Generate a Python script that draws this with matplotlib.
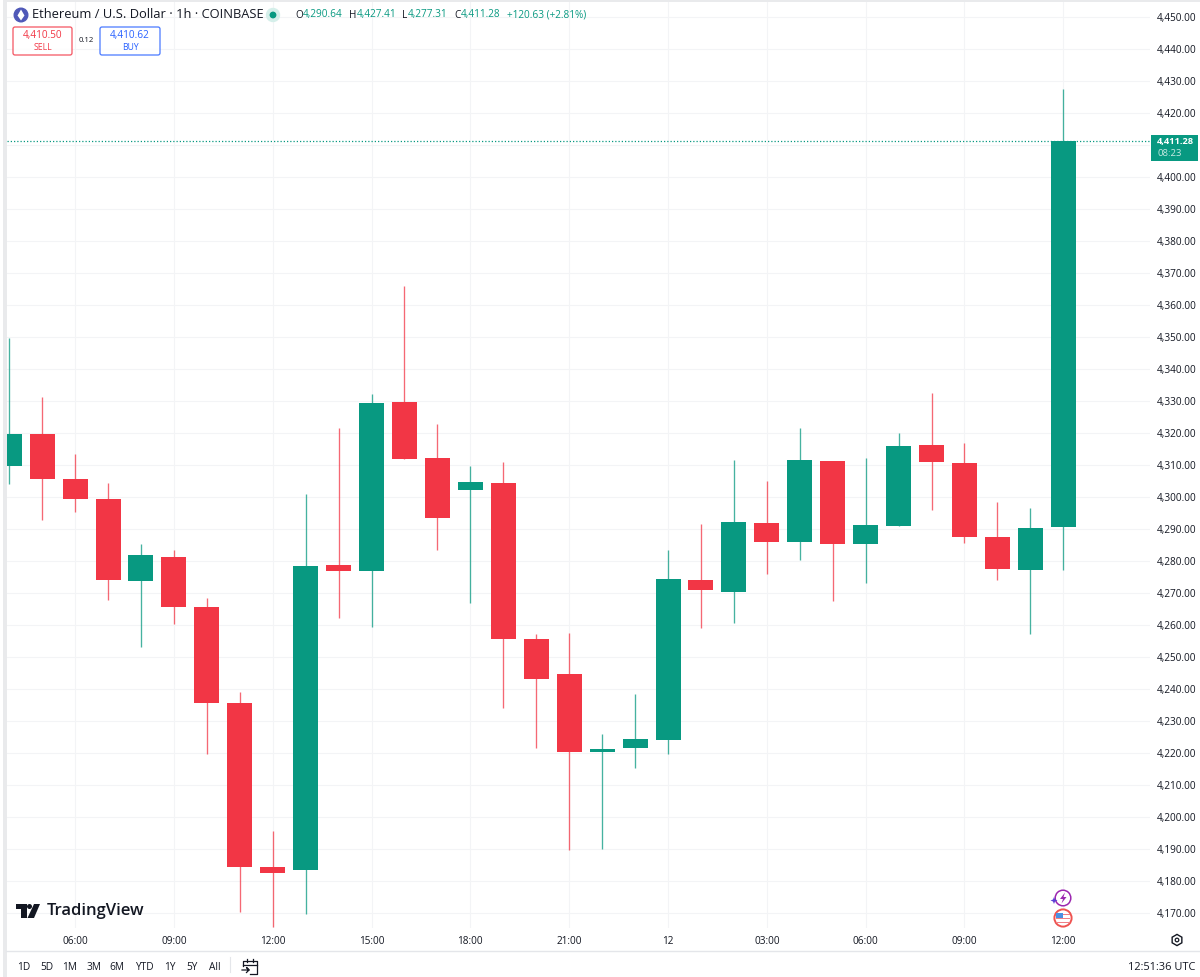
import matplotlib
matplotlib.use("Agg")
import matplotlib.pyplot as plt
from matplotlib.patches import FancyBboxPatch, Circle, Polygon, Rectangle, RegularPolygon

W, H = 1200, 977
GREEN = "#089981"
RED = "#F23645"
GRID = "#F3F4F6"
TXT = "#131722"
FONT = ["Open Sans", "DejaVu Sans"]

hours = list(range(4, 37))
opens = [4309.7, 4319.7, 4305.6, 4299.4, 4273.8, 4281.2, 4265.6, 4235.6, 4184.4, 4183.4, 4278.75,
         4276.9, 4329.7, 4312.2, 4302.2, 4304.4, 4255.6, 4244.7, 4220.3, 4221.6, 4224.0, 4274.0,
         4270.3, 4291.9, 4285.9, 4311.25, 4285.3, 4290.9, 4316.25, 4310.6, 4287.5, 4277.2, 4290.64]
highs = [4349.7, 4331.3, 4313.4, 4304.4, 4285.3, 4283.4, 4268.4, 4239.0, 4195.6, 4301.0, 4321.6,
         4332.2, 4366.0, 4322.8, 4309.7, 4310.9, 4257.2, 4257.5, 4225.9, 4238.4, 4283.4, 4291.6,
         4311.6, 4305.0, 4321.6, 4311.25, 4312.2, 4320.0, 4332.5, 4316.9, 4298.4, 4296.6, 4427.41]
lows = [4304.0, 4292.8, 4295.3, 4267.8, 4253.0, 4260.3, 4219.7, 4170.3, 4165.6, 4169.7, 4262.2,
        4259.4, 4311.9, 4283.4, 4266.9, 4234.0, 4221.6, 4189.7, 4190.0, 4215.3, 4219.7, 4259.0,
        4260.6, 4276.0, 4280.3, 4267.5, 4273.1, 4290.9, 4295.9, 4285.6, 4274.0, 4257.2, 4277.31]
closes = [4319.7, 4305.6, 4299.4, 4274.0, 4281.9, 4265.6, 4235.6, 4184.4, 4182.5, 4278.4, 4276.9,
          4329.4, 4311.9, 4293.4, 4304.7, 4255.6, 4243.0, 4220.3, 4221.25, 4224.4, 4274.4, 4270.9,
          4292.2, 4285.9, 4311.6, 4285.3, 4291.3, 4315.9, 4310.9, 4287.5, 4277.5, 4290.3, 4411.28]

price_ticks = list(range(4170, 4451, 10))
hidden_price_label = 4410
time_ticks = [6, 9, 12, 15, 18, 21, 24, 27, 30, 33, 36]
time_labels = ["06:00", "09:00", "12:00", "15:00", "18:00", "21:00", "12", "03:00", "06:00", "09:00", "12:00"]
last_price = 4411.28
ranges = ["1D", "5D", "1M", "3M", "6M", "YTD", "1Y", "5Y", "All"]
range_x = [24, 47, 70, 94, 117, 144, 170, 192, 215]

fig = plt.figure(figsize=(W / 100, H / 100), dpi=100, facecolor="white")

L, R, T, B = 6.5, 1150, 0, 928
ax = fig.add_axes([L / W, 1 - B / H, (R - L) / W, (B - T) / H])
PX_X = 32.94
X0 = 4 + (L - 9.2) / PX_X
PX_Y = 3.2
ax.set_xlim(X0, X0 + (R - L) / PX_X)
ytop = 4400 + (177 - T) / PX_Y
ax.set_ylim(ytop - (B - T) / PX_Y, ytop)

for s in ax.spines.values():
    s.set_visible(False)
ax.set_xticks(time_ticks)
ax.set_xticklabels(time_labels, fontsize=7.2, color=TXT, family=FONT)
ax.set_yticks(price_ticks)
ax.set_yticklabels(["" if p == hidden_price_label else f"{p:,.2f}" for p in price_ticks],
                   fontsize=7.2, color=TXT, family=FONT)
ax.yaxis.tick_right()
ax.tick_params(axis="both", length=0)
ax.tick_params(axis="x", pad=6)
ax.tick_params(axis="y", pad=5)
ax.grid(True, color=GRID, linewidth=0.8)
ax.set_axisbelow(True)

for h, o, hi, lo, c in zip(hours, opens, highs, lows, closes):
    col = GREEN if c >= o else RED
    ax.plot([h, h], [lo, hi], color=col, lw=0.95, alpha=0.75, solid_capstyle="butt", zorder=2)
    ax.bar(h, max(abs(c - o), 0.8), bottom=min(o, c), width=25 / PX_X, color=col, linewidth=0, zorder=3)

ax.axhline(last_price, color=GREEN, lw=0.9, ls=(0, (1, 1.6)), zorder=2)

ov = fig.add_axes([0, 0, 1, 1], facecolor="none")
ov.set_xlim(0, W)
ov.set_ylim(H, 0)
ov.axis("off")


def t(x, y, s, size=7.2, color=TXT, ha="left", **kw):
    ov.text(x, y, s, fontsize=size, color=color, ha=ha, va="center", family=FONT, **kw)


# frame lines
ov.add_patch(Rectangle((3, 0), 3.5, H, fc="#E9EAEC", ec="none"))
ov.add_patch(Rectangle((3, 0), W, 1.5, fc="#E9EAEC", ec="none"))
ov.plot([6, W], [951, 951], color="#E4E6EA", lw=1)
ov.plot([230, 230], [957, 972], color="#E4E6EA", lw=0.8)

# header
ov.add_patch(Circle((21, 15), 6.8, color="#4F58B8", zorder=3))
ov.add_patch(Polygon([(21, 9.5), (17.5, 15.5), (21, 20.5), (24.5, 15.5)], fc="white", ec="none", zorder=4))
t(32, 15, "Ethereum / U.S. Dollar · 1h · COINBASE", size=9.3)
ov.add_patch(Circle((273, 15), 6.5, color="#D5EFEA", zorder=3))
ov.add_patch(Circle((273, 15), 2.7, color=GREEN, zorder=4))
xs = [295, 303, 349, 357, 402, 408, 454, 461, 507]
vals = ["O", "4,290.64", "H", "4,427.41", "L", "4,277.31", "C", "4,411.28", "+120.63 (+2.81%)"]
for i, (x, s) in enumerate(zip(xs, vals)):
    t(x, 15, s, size=7.2, color=TXT if i in (0, 2, 4, 6) else GREEN)

# buy/sell boxes
for x0, x1, col, a, b in [(13, 72, RED, "4,410.50", "SELL"), (100, 160, "#2962FF", "4,410.62", "BUY")]:
    ov.add_patch(FancyBboxPatch((x0 + 2, 29), x1 - x0 - 4, 24, boxstyle="round,pad=2", fc="white",
                                ec=col, lw=0.9, alpha=0.85, zorder=3))
    t((x0 + x1) / 2, 35.5, a, size=7.2, color=col, ha="center", zorder=4)
    t((x0 + x1) / 2, 47, b, size=6.2, color=col, ha="center", zorder=4)
t(86, 41, "0.12", size=5.6, ha="center")

# last-price tag
ov.add_patch(Rectangle((1151, 135), 47, 26, fc=GREEN, ec="none", zorder=3))
t(1157, 141.5, f"{last_price:,.2f}", size=6.7, color="white", fontweight="bold", zorder=4)
t(1157, 153.5, "08:23", size=6.8, color="#C8EAE3", zorder=4)

# logo
ov.add_patch(Polygon([(16, 904), (27, 904), (27, 918), (21, 918), (21, 909), (16, 909)], fc=TXT, ec="none"))
ov.add_patch(Circle((29.5, 906.5), 2.5, fc=TXT, ec="none"))
ov.add_patch(Polygon([(34, 904), (40, 904), (34, 918), (27.5, 918)], fc=TXT, ec="none"))
t(46.5, 911, "TradingView", size=12.0, fontweight="semibold")

# range buttons
for x, s in zip(range_x, ranges):
    t(x, 967, s, size=7.3, ha="center")

# calendar icon
ov.plot([243, 243, 257, 257, 250], [966, 961, 961, 974, 974], color=TXT, lw=0.9)
ov.plot([243, 257], [964.5, 964.5], color=TXT, lw=0.9)
ov.plot([247, 247], [959, 962], color=TXT, lw=0.9)
ov.plot([253, 253], [959, 962], color=TXT, lw=0.9)
ov.plot([242, 249, 246.5, 249, 246.5], [970, 970, 967.5, 970, 972.5], color=TXT, lw=0.9)

# bottom-right
t(1195, 967, "12:51:36 UTC", size=7.9, ha="right")
ov.add_patch(RegularPolygon((1177, 940), 6, radius=5.6, fc="none", ec=TXT, lw=1.0))
ov.add_patch(Circle((1177, 940), 1.8, fc="none", ec=TXT, lw=0.9))

# event badges
ov.add_patch(Circle((1063, 898), 7.8, fc="white", ec="#9C27B0", lw=1.1, zorder=3))
ov.add_patch(Polygon([(1065, 892.5), (1060, 899), (1063, 899), (1061.5, 903.5), (1066.5, 897), (1063.5, 897)],
                     fc="#9C27B0", ec="none", zorder=4))
ov.add_patch(Polygon([(1054, 897), (1055, 899.5), (1057.5, 900.5), (1055, 901.5), (1054, 904),
                      (1053, 901.5), (1050.5, 900.5), (1053, 899.5)], fc="#5B3FD6", ec="none", zorder=5))
ov.add_patch(Circle((1063, 918), 8.6, fc="white", ec="#EF5350", lw=1.4, zorder=3))
for yy in (913.5, 917.5, 921.5):
    ov.add_patch(Rectangle((1056, yy), 14, 1.9, fc="#EF7F86", ec="none", zorder=4))
ov.add_patch(Rectangle((1056, 912.5), 7, 5.5, fc="#4A90E2", ec="none", zorder=5))

fig.savefig("out.png", dpi=100, facecolor="white")
